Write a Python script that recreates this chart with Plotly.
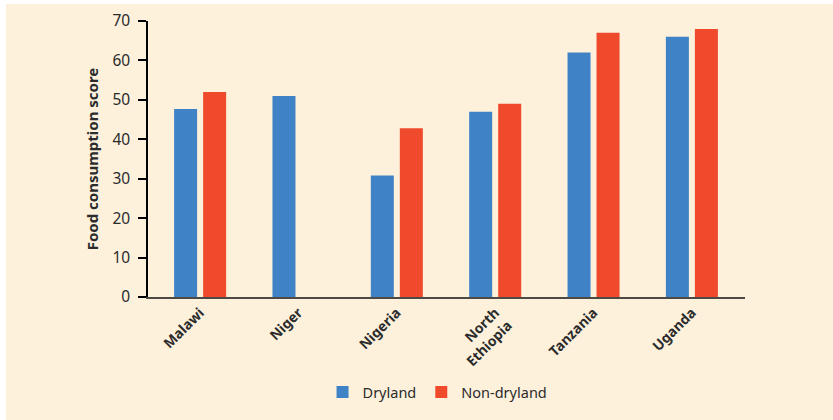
import plotly.graph_objects as go

categories = ["Malawi", "Niger", "Nigeria", "North<br>Ethiopia", "Tanzania", "Uganda"]
dryland = [47.7, 51, 30.8, 47, 62, 66]
non_dryland = [52, None, 42.8, 49, 67, 68]
y_ticks = [0, 10, 20, 30, 40, 50, 60, 70]

BLUE = "#3f83c6"
RED = "#ef4a2b"
CREAM = "#fdf1dc"
TEXT = "#2b2b2b"
FONT = "Noto Sans, Open Sans, sans-serif"

fig = go.Figure()
fig.add_trace(go.Bar(x=categories, y=dryland, name="Dryland", marker_color=BLUE, marker_line_width=0))
fig.add_trace(go.Bar(x=categories, y=non_dryland, name="Non-dryland", marker_color=RED, marker_line_width=0))

W, H = 833, 420
L, R, T, B = 148, 88, 21, 123
pw, ph = W - L - R, H - T - B

fig.add_shape(type="rect", xref="paper", yref="paper",
              x0=(6 - L) / pw, x1=(W + 10 - L) / pw,
              y0=(H - B - 430) / ph, y1=(H - B - 4) / ph,
              fillcolor=CREAM, line_width=0, layer="below")

fig.update_layout(
    width=W, height=H,
    margin=dict(l=L, r=R, t=T, b=B, pad=0, autoexpand=False),
    paper_bgcolor="white",
    plot_bgcolor="rgba(0,0,0,0)",
    barmode="group",
    bargap=0.41,
    bargroupgap=0.207,
    font=dict(family=FONT, color=TEXT, size=14),
    showlegend=True,
    legend=dict(orientation="h", x=0.485, xanchor="center", y=(H - B - 392) / ph, yanchor="middle",
                font=dict(size=14.5, color=TEXT), bgcolor="rgba(0,0,0,0)",
                traceorder="normal"),
    xaxis=dict(
        range=[-0.53, 5.54],
        showline=True, linecolor="#4d4a45", linewidth=2,
        ticks="", tickangle=-45,
        tickfont=dict(size=14, family=FONT, color=TEXT, weight="bold"),
        showgrid=False, zeroline=False, automargin=False,
    ),
    yaxis=dict(
        range=[0, 70],
        tickvals=y_ticks,
        showline=True, linecolor="black", linewidth=1.5,
        ticks="outside", ticklen=8, tickcolor="black", tickwidth=1.5,
        ticklabelstandoff=5,
        tickfont=dict(size=15.5, color=TEXT),
        showgrid=False, zeroline=False, automargin=False,
        title=dict(text="Food consumption score", standoff=10,
                   font=dict(size=15, weight="bold", color=TEXT)),
    ),
)

fig.write_html("out.html", config={"displayModeBar": False},
               post_script="document.body.style.margin='0';document.body.style.overflow='hidden';")
